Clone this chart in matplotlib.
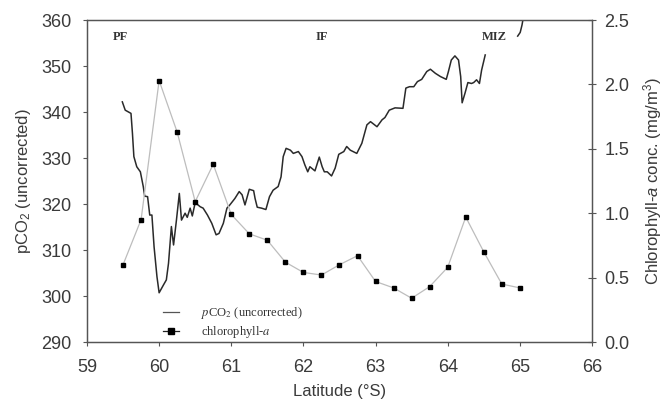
import numpy as np
import matplotlib.pyplot as plt
from matplotlib.lines import Line2D
from matplotlib.font_manager import FontProperties

plt.rcParams['font.family'] = ['Liberation Sans', 'DejaVu Sans']
plt.rcParams['mathtext.fontset'] = 'custom'
plt.rcParams['mathtext.rm'] = 'Liberation Sans'
plt.rcParams['mathtext.it'] = 'Liberation Sans:italic'

# pCO2 trace
lat_pco2 = [59.49, 59.53, 59.61, 59.63, 59.65, 59.69, 59.74, 59.78, 59.80, 59.84,
            59.87, 59.90, 59.93, 59.97, 60.00, 60.06, 60.10, 60.13, 60.17, 60.20,
            60.24, 60.28, 60.31, 60.36, 60.39, 60.43, 60.46, 60.50, 60.57, 60.61,
            60.67, 60.73, 60.79, 60.83, 60.89, 60.94, 60.98, 61.05, 61.11, 61.15,
            61.19, 61.25, 61.31, 61.33, 61.36, 61.42, 61.48, 61.53, 61.58, 61.65,
            61.69, 61.72, 61.76, 61.82, 61.86, 61.93, 61.98, 62.02, 62.06, 62.09,
            62.16, 62.22, 62.26, 62.29, 62.33, 62.39, 62.44, 62.49, 62.56, 62.60,
            62.65, 62.74, 62.81, 62.88, 62.93, 63.02, 63.09, 63.13, 63.19, 63.27,
            63.38, 63.42, 63.47, 63.53, 63.58, 63.64, 63.71, 63.76, 63.83, 63.90,
            63.98, 64.01, 64.05, 64.10, 64.15, 64.18, 64.20, 64.24, 64.28, 64.33,
            64.36, 64.40, 64.44, 64.47, 64.52]
pco2 = [342.2, 340.4, 339.7, 335.4, 330.3, 328.1, 327.0, 323.8, 321.7, 321.6,
        317.6, 317.6, 310.7, 304.2, 300.7, 302.4, 303.5, 307.1, 315.1, 311.1,
        316.5, 322.3, 316.5, 318.0, 317.1, 319.1, 317.4, 320.3, 319.4, 319.1,
        317.6, 315.8, 313.3, 313.6, 315.8, 319.1, 319.8, 321.2, 322.7, 322.0,
        319.8, 323.2, 322.9, 321.2, 319.3, 319.1, 318.8, 321.6, 323.0, 323.8,
        325.9, 330.3, 332.1, 331.7, 331.0, 331.4, 330.3, 328.5, 327.0, 328.1,
        327.2, 330.2, 328.1, 327.0, 327.0, 326.1, 327.8, 330.8, 331.4, 332.5,
        331.7, 331.0, 333.2, 337.2, 337.9, 336.8, 338.3, 338.8, 340.4, 340.9,
        340.8, 345.2, 345.5, 345.5, 346.6, 347.1, 348.8, 349.3, 348.4, 347.7,
        347.1, 348.8, 351.3, 352.2, 351.3, 347.7, 342.0, 344.1, 346.4, 346.2,
        346.4, 347.0, 346.2, 349.1, 352.4]

# short piece near the top right, running off the axis
lat_pco2_b = [64.97, 65.005, 65.03, 65.04, 65.05]
pco2_b = [356.5, 357.3, 358.9, 359.8, 362.0]

# chlorophyll-a stations
lat_chl = [59.50, 59.75, 60.00, 60.25, 60.50, 60.75, 61.00, 61.25, 61.50, 61.75,
           62.00, 62.25, 62.50, 62.75, 63.00, 63.25, 63.50, 63.75, 64.00, 64.25,
           64.50, 64.75, 65.00]
chl = [0.60, 0.95, 2.03, 1.63, 1.09, 1.38, 0.99, 0.84, 0.79, 0.62,
       0.54, 0.52, 0.60, 0.67, 0.47, 0.42, 0.34, 0.43, 0.58, 0.97,
       0.70, 0.45, 0.42]

fronts = ['PF', 'IF', 'MIZ']
front_lat = [59.46, 62.26, 64.64]

txt = '#3a3a3a'
fig = plt.figure(figsize=(6.65, 4.09), dpi=100)
ax = fig.add_axes([0.1308, 0.1638, 0.7594, 0.7873])
ax2 = ax.twinx()

ax.plot(lat_pco2, pco2, color='#2a2a2a', lw=1.1)
ax.plot(lat_pco2_b, pco2_b, color='#2a2a2a', lw=1.1)
ax2.plot(lat_chl, chl, color='#bdbdbd', lw=0.9, marker='s', ms=2.8,
         mfc='black', mec='black')

ax.set_xlim(59, 66)
ax.set_ylim(290, 360)
ax2.set_ylim(0, 2.5)
ax.set_xticks(range(59, 67))
ax.set_yticks(range(290, 361, 10))
ax2.set_yticks(np.arange(0, 2.51, 0.5))
ax2.set_yticklabels(['%.1f' % v for v in np.arange(0, 2.51, 0.5)])

for a in (ax, ax2):
    for s in a.spines.values():
        s.set_color('#555555')
        s.set_linewidth(0.9)
ax.tick_params(axis='both', direction='out', length=3, width=0.8, color='#555555',
               labelsize=13, labelcolor=txt, pad=8)
ax.tick_params(axis='x', pad=9)
ax2.tick_params(axis='y', direction='inout', length=6, width=0.8, color='#555555',
                labelsize=13, labelcolor=txt, pad=6)

ax.set_xlabel('Latitude (°S)', fontsize=12, color=txt, labelpad=6)
ax.set_ylabel('pCO$_2$ (uncorrected)', fontsize=12, color=txt, labelpad=6)
ax2.set_ylabel('Chlorophyll-$a$ conc. (mg/m$^3$)', fontsize=12, color=txt, labelpad=8)

for name, x in zip(fronts, front_lat):
    ax.text(x, 356.2, name, family='Liberation Serif', fontweight='bold',
            fontsize=9, color='#333333', ha='center', va='center')

handles = [Line2D([], [], color='#555555', lw=0.9),
           Line2D([], [], color='#222222', lw=0.9, marker='s', ms=4,
                  mfc='black', mec='black')]
labels = ['$p$CO$_2$ (uncorrected)', 'chlorophyll-$a$']
prop = FontProperties(family='Liberation Serif', size=9, math_fontfamily='stix')
leg = ax2.legend(handles, labels, loc='upper left', bbox_to_anchor=(0.14, 0.13),
                 frameon=False, prop=prop, handlelength=1.3, handletextpad=1.8,
                 labelspacing=0.25, borderaxespad=0)
for t in leg.get_texts():
    t.set_color('#333333')

fig.savefig('out.png', dpi=100)
